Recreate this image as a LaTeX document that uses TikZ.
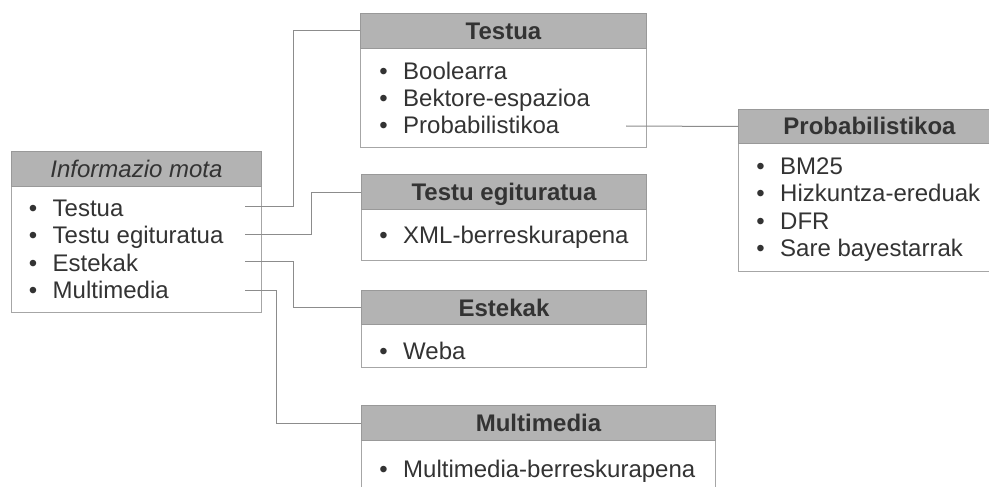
\documentclass[tikz,border=0pt]{standalone}
\usepackage{fontspec}
\setmainfont{Liberation Sans}
\definecolor{ink}{HTML}{333333}
\definecolor{headfill}{HTML}{B3B3B3}
\definecolor{headline}{HTML}{999999}
\definecolor{boxline}{HTML}{A6A6A6}
\definecolor{linkgray}{HTML}{8C8C8C}
\newcommand{\bul}{\llap{\textbullet\hspace{15.5pt}}}
\begin{document}
\begin{tikzpicture}[x=1pt,y=-1pt,
  font=\fontsize{24}{27.5}\selectfont,
  head/.style={draw=headline, fill=headfill, line width=1pt, anchor=north west,
    inner sep=0pt, text height=17pt, text depth=0pt, font=\fontsize{24}{27.5}\selectfont\bfseries, text=ink},
  body/.style={draw=boxline, fill=white, line width=1pt, anchor=north west, inner sep=0pt},
  entry/.style={anchor=base west, inner sep=0pt, text=ink},
  link/.style={draw=linkgray, line width=1pt}]
\useasboundingbox (0,0) rectangle (989,487);
\clip (0,0) rectangle (989,487);
\fill[white] (0,0) rectangle (989,487);

% Informazio mota
\node[body, minimum width=250pt, minimum height=126pt] (b1) at (11,186) {};
\node[head, minimum width=250pt, minimum height=35pt, font=\fontsize{24}{27.5}\selectfont\itshape] (h1) at (11,151) {Informazio mota};
\node[entry] (i11) at (52.5,216.5) {\bul Testua};
\node[entry] (i12) at (52.5,243.8) {\bul Testu egituratua};
\node[entry] (i13) at (52.5,271.1) {\bul Estekak};
\node[entry] (i14) at (52.5,298.4) {\bul Multimedia};

% Testua
\node[body, minimum width=286pt, minimum height=99pt] (b2) at (360,48) {};
\node[head, minimum width=286pt, minimum height=35pt] (h2) at (360,13) {Testua};
\node[entry] (i21) at (403,79.3) {\bul Boolearra};
\node[entry] (i22) at (403,106.5) {\bul Bektore-espazioa};
\node[entry] (i23) at (403,133.5) {\bul Probabilistikoa};

% Testu egituratua
\node[body, minimum width=285pt, minimum height=51pt] (b3) at (361,209) {};
\node[head, minimum width=285pt, minimum height=35pt] (h3) at (361,174) {Testu egituratua};
\node[entry] (i31) at (403,243.3) {\bul XML-berreskurapena};

% Estekak
\node[body, minimum width=285pt, minimum height=43pt] (b4) at (361,324) {};
\node[head, minimum width=285pt, minimum height=34pt] (h4) at (361,290) {Estekak};
\node[entry] (i41) at (403,359) {\bul Weba};

% Multimedia
\node[body, minimum width=354pt, minimum height=60pt] (b5) at (361,440) {};
\node[head, minimum width=354pt, minimum height=35pt] (h5) at (361,405) {Multimedia};
\node[entry] (i51) at (403,477.3) {\bul Multimedia-berreskurapena};

% Probabilistikoa
\node[body, minimum width=262pt, minimum height=128pt] (b6) at (738,143) {};
\node[head, minimum width=262pt, minimum height=34pt] (h6) at (738,109) {Probabilistikoa};
\node[entry] (i61) at (780,174) {\bul BM25};
\node[entry] (i62) at (780,201.6) {\bul Hizkuntza-ereduak};
\node[entry] (i63) at (780,229.2) {\bul DFR};
\node[entry] (i64) at (780,256.8) {\bul Sare bayestarrak};

% connector start points beside the list entries
\coordinate (s1) at (245,206);
\coordinate (s2) at (245,234);
\coordinate (s3) at (245,261);
\coordinate (s4) at (245,290);
\coordinate (s5) at (626,126);

\draw[link] (s1) -- ++(48,0) |- (h2.west);
\draw[link] (s2) -- ++(66,0) |- (h3.west);
\draw[link] (s3) -- ++(48,0) |- (h4.west);
\draw[link] (s4) -- ++(31,0) |- (h5.west);
\draw[link] (s5) -- (h6.west);
\end{tikzpicture}
\end{document}
